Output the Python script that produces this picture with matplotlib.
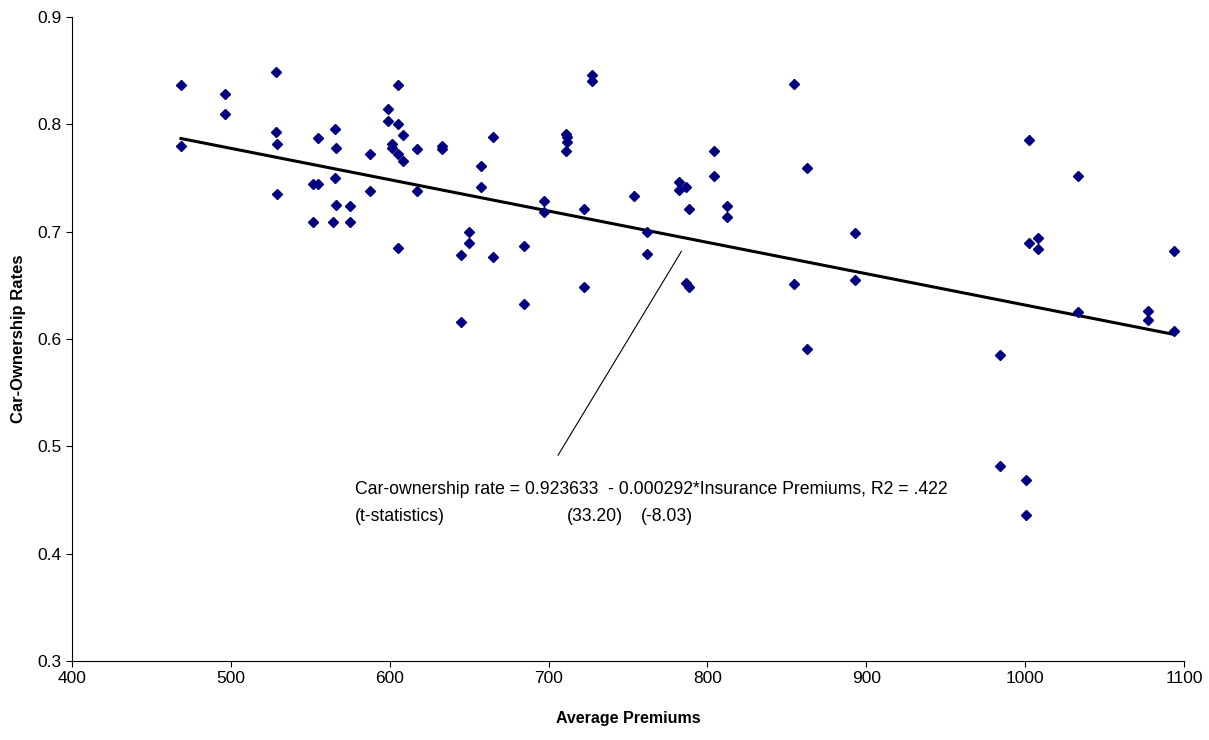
import numpy as np
import matplotlib
matplotlib.use("Agg")
import matplotlib.pyplot as plt

plt.rcParams['font.family'] = ['Liberation Sans', 'DejaVu Sans']

# average insurance premiums and car-ownership rates
premiums = [
    468.6, 468.6, 496.3, 496.3, 528.2, 528.2, 529.0, 529.0, 551.5, 551.5,
    555.0, 555.0, 564.3, 565.3, 565.3, 566.1, 566.1, 574.9, 574.9, 587.5,
    587.5, 599.1, 599.1, 601.6, 601.6, 605.0, 605.0, 605.0, 605.0, 608.5,
    608.5, 616.9, 616.9, 632.7, 632.7, 644.6, 644.6, 649.8, 649.8, 657.4,
    657.4, 665.1, 665.1, 684.3, 684.3, 697.2, 697.2, 710.7, 711.5, 711.9,
    710.9, 722.2, 722.2, 727.2, 727.2, 753.9, 761.9, 761.9, 782.2, 782.2,
    786.2, 786.2, 788.5, 788.5, 804.0, 804.0, 812.6, 812.6, 854.2, 854.2,
    862.8, 862.8, 892.8, 892.8, 984.0, 984.0, 1000.6, 1000.6, 1002.3, 1002.3,
    1008.3, 1008.3, 1033.3, 1033.3, 1077.3, 1077.3, 1093.7, 1093.7,
]
ownership = [
    0.837, 0.780, 0.828, 0.810, 0.849, 0.793, 0.782, 0.735, 0.744, 0.709,
    0.787, 0.744, 0.709, 0.796, 0.750, 0.778, 0.725, 0.724, 0.709, 0.772,
    0.738, 0.814, 0.803, 0.782, 0.778, 0.837, 0.800, 0.772, 0.685, 0.790,
    0.766, 0.777, 0.738, 0.780, 0.777, 0.678, 0.616, 0.700, 0.689, 0.761,
    0.742, 0.788, 0.676, 0.687, 0.633, 0.729, 0.718, 0.791, 0.788, 0.784,
    0.775, 0.721, 0.648, 0.846, 0.840, 0.733, 0.700, 0.679, 0.746, 0.739,
    0.742, 0.652, 0.721, 0.648, 0.775, 0.752, 0.724, 0.714, 0.838, 0.651,
    0.759, 0.591, 0.699, 0.655, 0.585, 0.482, 0.469, 0.436, 0.785, 0.689,
    0.694, 0.684, 0.752, 0.625, 0.626, 0.618, 0.682, 0.607,
]

intercept = 0.923633
slope = -0.000292

fig = plt.figure(figsize=(12.09, 7.40), dpi=100)
ax = fig.add_axes([72 / 1209, 1 - 661 / 740, (1184 - 72) / 1209, (661 - 17) / 740])

ax.plot(premiums, ownership, 'D', color='#000080', markersize=5, zorder=3)

x_fit = np.array([min(premiums), max(premiums)])
ax.plot(x_fit, intercept + slope * x_fit, color='black', linewidth=2.2, zorder=2)

# pointer from the equation text up to the fitted line
ax.plot([706, 783.6], [0.4918, 0.6816], color='black', linewidth=0.8)

ax.text(578, 0.4601, 'Car-ownership rate = 0.923633  - 0.000292*Insurance Premiums, R2 = .422',
        fontsize=12.7, va='center', ha='left')
ax.text(578, 0.4349, '(t-statistics)', fontsize=12.7, va='center', ha='left')
ax.text(711.5, 0.4349, '(33.20)', fontsize=12.7, va='center', ha='left')
ax.text(758, 0.4349, '(-8.03)', fontsize=12.7, va='center', ha='left')

ax.set_xlim(400, 1100)
ax.set_ylim(0.3, 0.9)
ax.set_xticks(np.arange(400, 1101, 100))
ax.set_yticks(np.arange(0.3, 0.91, 0.1))
ax.set_yticklabels(['0.3', '0.4', '0.5', '0.6', '0.7', '0.8', '0.9'])
ax.tick_params(direction='out', length=4, width=0.8, labelsize=12.5, color='black')

for side in ['top', 'right']:
    ax.spines[side].set_visible(False)
for side in ['left', 'bottom']:
    ax.spines[side].set_linewidth(0.8)

ax.set_xlabel('Average Premiums', fontsize=11.5, fontweight='bold', labelpad=18)
ax.set_ylabel('Car-Ownership Rates', fontsize=12, fontweight='bold', labelpad=8)

fig.savefig('out.png', dpi=100)
